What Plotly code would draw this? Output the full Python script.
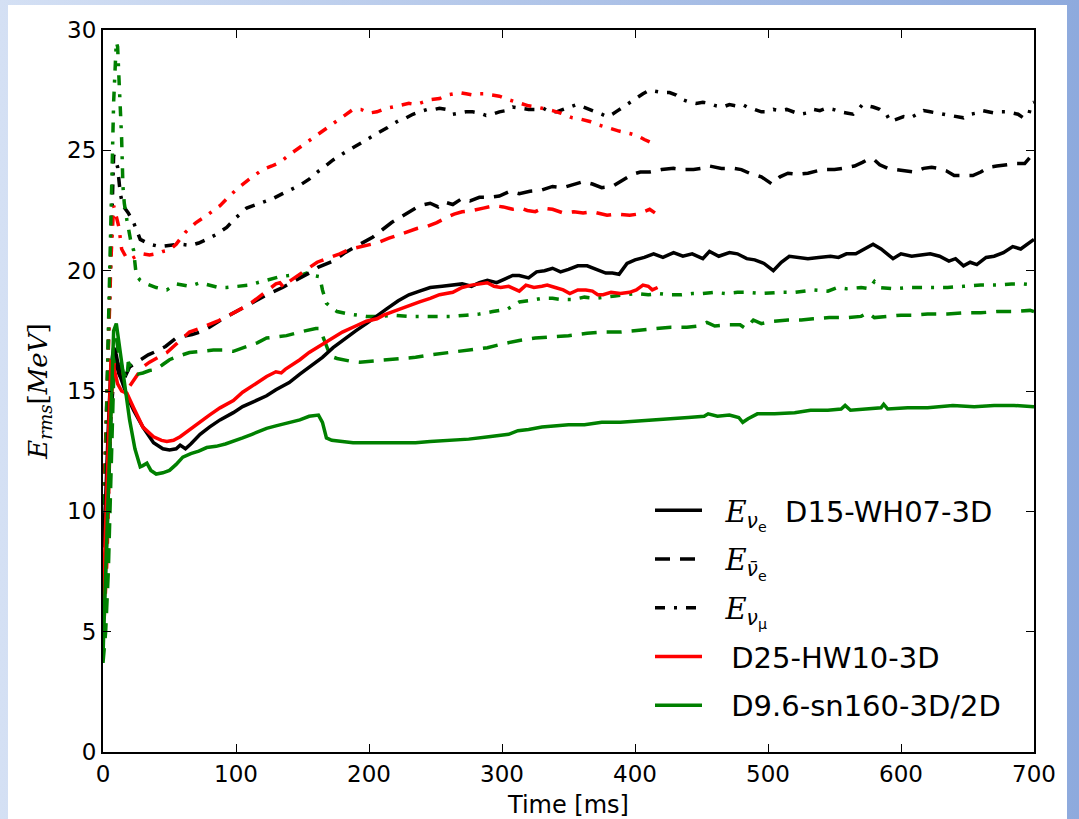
import base64
import plotly.graph_objects as go

# ---------------- data (time [ms], E_rms [MeV]) ----------------
BLACK_NUE = [(0,8.5),(2,10.5),(4,13.5),(6,16.0),(8,16.8),(10,16.5),(13,15.6),(18,14.8),(23,14.2),(30,13.5),(38,12.85),(45,12.6),(50,12.55),(55,12.6),(58,12.75),(62,12.6),(66,12.8),(73,13.2),(80,13.5),(88,13.8),(98,14.1),(105,14.35),(113,14.55),(123,14.8),(130,15.05),(140,15.35),(148,15.7),(155,16.0),(165,16.4),(173,16.8),(180,17.1),(190,17.5),(198,17.8),(205,18.1),(213,18.4),(222,18.75),(230,19.0),(238,19.15),(246,19.3),(255,19.35),(263,19.4),(270,19.45),(277,19.35),(283,19.5),(289,19.6),(296,19.5),(302,19.65),(308,19.8),(313,19.8),(320,19.7),(326,19.95),(332,20.0),(338,20.1),(344,19.95),(350,20.05),(357,20.2),(364,20.2),(371,20.05),(378,19.9),(383,19.9),(388,19.85),(394,20.3),(400,20.45),(407,20.55),(414,20.7),(421,20.55),(429,20.75),(436,20.6),(443,20.7),(451,20.5),(456,20.8),(463,20.6),(471,20.75),(477,20.7),(484,20.5),(490,20.45),(497,20.3),(504,20.0),(510,20.35),(516,20.6),(523,20.55),(530,20.5),(538,20.55),(547,20.6),(553,20.55),(559,20.7),(566,20.7),(573,20.9),(579,21.1),(585,20.9),(590,20.7),(594,20.5),(600,20.7),(608,20.6),(615,20.65),(622,20.7),(629,20.6),(636,20.4),(641,20.5),(647,20.2),(652,20.35),(657,20.25),(664,20.55),(670,20.6),(677,20.75),(684,21.0),(690,20.9),(695,21.1),(700,21.3)]
BLACK_ANUE = [(0,5.0),(3,9.0),(6,14.0),(9,16.3),(12,15.7),(15,15.4),(20,16.0),(27,16.25),(34,16.5),(40,16.65),(47,16.85),(55,17.2),(60,17.25),(67,17.35),(73,17.45),(80,17.65),(90,18.0),(100,18.3),(108,18.55),(116,18.8),(125,19.05),(135,19.3),(142,19.5),(148,19.7),(155,19.9),(162,20.15),(173,20.4),(182,20.75),(190,21.0),(197,21.25),(203,21.4),(210,21.7),(217,22.0),(223,22.2),(230,22.45),(238,22.7),(246,22.8),(252,22.65),(257,22.85),(263,22.75),(270,23.0),(276,22.9),(283,23.05),(291,23.05),(298,23.1),(306,23.3),(313,23.2),(321,23.3),(330,23.35),(338,23.5),(346,23.45),(353,23.55),(361,23.7),(368,23.6),(375,23.45),(383,23.5),(390,23.75),(398,24.0),(404,24.1),(411,24.1),(420,24.2),(429,24.25),(436,24.2),(444,24.2),(450,24.25),(456,24.35),(465,24.25),(474,24.25),(480,24.2),(486,24.05),(495,23.9),(500,23.7),(503,23.6),(509,23.9),(515,24.05),(522,24.0),(530,24.05),(541,24.2),(550,24.2),(556,24.25),(565,24.35),(571,24.5),(576,24.65),(580,24.6),(584,24.4),(590,24.25),(597,24.2),(603,24.15),(610,24.1),(617,24.25),(623,24.3),(628,24.25),(634,24.15),(640,23.95),(646,23.95),(654,23.95),(660,24.1),(666,24.3),(672,24.35),(680,24.4),(687,24.45),(693,24.45),(697,24.7),(700,24.9)]
BLACK_NUX = [(0,9.0),(2,13.0),(4,17.5),(6,22.0),(8,24.8),(10,24.5),(11,24.3),(13,23.2),(15,22.7),(19,22.4),(23,22.0),(28,21.3),(35,21.1),(43,21.0),(50,21.05),(58,21.1),(66,21.05),(72,21.15),(78,21.3),(85,21.5),(93,21.8),(100,22.2),(108,22.6),(115,22.75),(122,22.9),(128,23.0),(135,23.2),(142,23.4),(148,23.55),(155,23.8),(160,24.05),(166,24.3),(173,24.6),(180,24.85),(185,25.0),(191,25.2),(197,25.4),(203,25.6),(208,25.75),(214,25.95),(218,26.1),(223,26.25),(228,26.35),(233,26.5),(238,26.6),(244,26.7),(249,26.7),(253,26.75),(258,26.7),(263,26.5),(268,26.55),(273,26.6),(278,26.6),(283,26.55),(288,26.45),(293,26.5),(298,26.6),(303,26.65),(308,26.8),(313,26.75),(320,26.7),(326,26.7),(331,26.75),(336,26.6),(341,26.6),(346,26.7),(351,26.8),(356,26.9),(361,26.8),(366,26.7),(371,26.6),(375,26.5),(379,26.4),(383,26.5),(387,26.65),(391,26.8),(396,26.95),(401,27.15),(406,27.35),(411,27.5),(416,27.45),(421,27.4),(426,27.4),(431,27.3),(436,27.1),(441,27.0),(446,26.95),(451,27.0),(456,26.95),(461,26.85),(466,26.8),(471,26.9),(476,26.85),(481,26.9),(486,26.75),(490,26.7),(495,26.6),(499,26.6),(504,26.7),(509,26.65),(514,26.7),(519,26.6),(524,26.5),(529,26.55),(534,26.7),(539,26.65),(544,26.75),(549,26.7),(554,26.6),(559,26.55),(564,26.5),(568,26.7),(571,26.9),(575,26.85),(579,26.8),(584,26.7),(589,26.5),(592,26.2),(597,26.3),(602,26.4),(607,26.35),(612,26.5),(617,26.65),(622,26.6),(627,26.55),(632,26.5),(637,26.45),(642,26.4),(647,26.35),(652,26.5),(657,26.55),(661,26.65),(665,26.6),(670,26.55),(675,26.6),(680,26.6),(684,26.55),(688,26.5),(692,26.35),(696,26.45),(698,26.95),(700,27.0)]

RED_NUE = [(0,6.0),(2,9.5),(4,13.5),(6,16.3),(8,16.0),(11,15.3),(14,15.0),(18,14.9),(23,14.3),(30,13.5),(38,13.1),(44,12.95),(48,12.9),(53,12.95),(58,13.1),(65,13.4),(73,13.7),(80,14.0),(88,14.3),(98,14.6),(105,14.95),(113,15.25),(123,15.6),(130,15.8),(134,15.75),(137,15.9),(143,16.1),(148,16.3),(155,16.6),(165,16.95),(173,17.2),(180,17.45),(190,17.7),(198,17.9),(206,18.0),(211,18.15),(218,18.3),(225,18.45),(232,18.6),(238,18.7),(246,18.85),(253,19.0),(263,19.1),(270,19.3),(277,19.4),(283,19.45),(289,19.5),(294,19.35),(299,19.3),(305,19.35),(313,19.15),(318,19.4),(324,19.3),(330,19.35),(334,19.4),(340,19.3),(346,19.2),(351,19.05),(357,19.2),(363,19.2),(368,19.15),(372,19.0),(376,19.0),(382,19.1),(389,19.05),(396,19.1),(401,19.2),(406,19.4),(410,19.35),(413,19.2),(417,19.3)]
RED_ANUE = [(0,4.5),(3,8.0),(6,14.5),(9,16.5),(12,16.0),(16,15.4),(20,15.2),(25,15.6),(30,16.0),(35,16.2),(42,16.4),(48,16.6),(56,17.0),(65,17.45),(75,17.65),(86,17.9),(95,18.15),(103,18.4),(110,18.6),(116,18.85),(124,19.2),(130,19.45),(133,19.5),(136,19.3),(140,19.55),(145,19.75),(153,20.05),(161,20.35),(168,20.5),(178,20.7),(186,20.9),(194,21.0),(200,21.05),(206,21.15),(215,21.35),(223,21.5),(230,21.6),(236,21.75),(244,21.85),(251,22.0),(258,22.2),(264,22.35),(270,22.45),(278,22.5),(286,22.6),(294,22.7),(301,22.65),(308,22.55),(314,22.6),(319,22.5),(325,22.45),(331,22.6),(338,22.55),(346,22.4),(354,22.45),(361,22.4),(368,22.45),(374,22.35),(379,22.3),(386,22.35),(392,22.3),(396,22.3),(402,22.35),(406,22.45),(411,22.55),(415,22.4)]
RED_NUX = [(0,9.0),(2,12.5),(4,16.5),(6,20.5),(8,22.7),(10,22.3),(12,21.8),(14,20.9),(17,20.6),(20,20.45),(25,20.6),(30,20.7),(35,20.65),(40,20.7),(45,20.8),(50,20.85),(55,21.1),(62,21.6),(70,22.0),(78,22.3),(88,22.7),(95,23.1),(103,23.5),(110,23.8),(120,24.2),(127,24.35),(133,24.5),(141,24.85),(150,25.2),(160,25.6),(171,26.0),(180,26.35),(188,26.7),(194,26.7),(200,26.55),(206,26.6),(213,26.75),(218,26.8),(223,26.85),(230,26.95),(235,26.9),(240,27.0),(246,27.1),(253,27.15),(259,27.3),(264,27.35),(268,27.4),(273,27.35),(278,27.3),(282,27.35),(286,27.35),(292,27.3),(298,27.25),(305,27.1),(313,26.95),(320,26.85),(326,26.8),(331,26.75),(338,26.65),(344,26.55),(349,26.45),(353,26.35),(359,26.3),(366,26.2),(373,26.05),(381,25.9),(388,25.8),(396,25.7),(402,25.6),(407,25.45),(411,25.35),(413,25.3)]

GREEN_NUE = [(0,4.0),(2,8.0),(4,10.8),(6,14.0),(8,17.5),(10,17.8),(12,17.0),(14,16.0),(17,14.8),(20,13.8),(24,12.6),(28,11.85),(30,11.9),(33,12.0),(36,11.7),(40,11.55),(45,11.6),(50,11.7),(55,11.95),(60,12.25),(66,12.4),(72,12.5),(78,12.65),(85,12.7),(92,12.8),(98,12.9),(105,13.05),(112,13.2),(118,13.35),(123,13.45),(130,13.55),(137,13.65),(143,13.75),(148,13.8),(155,13.95),(162,14.0),(165,13.7),(168,13.05),(172,12.95),(178,12.92),(188,12.85),(198,12.85),(210,12.85),(222,12.82),(235,12.85),(246,12.9),(260,12.95),(275,13.0),(290,13.1),(305,13.2),(312,13.35),(320,13.4),(330,13.5),(338,13.55),(350,13.6),(362,13.6),(375,13.7),(389,13.7),(400,13.75),(412,13.8),(425,13.85),(440,13.9),(452,13.95),(455,14.05),(462,13.95),(471,14.0),(478,13.9),(481,13.7),(485,13.85),(492,14.05),(505,14.05),(520,14.1),(532,14.2),(545,14.2),(555,14.25),(558,14.4),(562,14.2),(575,14.25),(585,14.3),(587,14.45),(590,14.25),(605,14.3),(620,14.3),(639,14.4),(655,14.35),(670,14.4),(685,14.4),(700,14.35)]
GREEN_ANUE = [(0,3.7),(2,5.0),(4,7.5),(6,11.5),(8,15.5),(10,17.2),(12,16.5),(15,15.8),(18,15.5),(19,16.2),(22,15.9),(26,15.7),(30,15.75),(35,15.85),(40,15.9),(45,16.1),(50,16.3),(57,16.45),(65,16.6),(75,16.65),(83,16.7),(90,16.7),(98,16.65),(108,16.85),(116,17.0),(123,17.2),(130,17.25),(138,17.3),(148,17.45),(155,17.55),(160,17.6),(163,17.6),(165,17.3),(168,16.9),(171,16.45),(176,16.35),(185,16.25),(193,16.2),(205,16.25),(215,16.3),(223,16.35),(235,16.4),(246,16.5),(260,16.6),(275,16.7),(289,16.8),(300,16.95),(313,17.1),(325,17.2),(338,17.25),(350,17.3),(364,17.4),(376,17.45),(389,17.45),(400,17.5),(414,17.6),(427,17.65),(439,17.65),(447,17.7),(454,17.85),(460,17.7),(470,17.75),(479,17.75),(483,17.6),(489,17.95),(495,17.8),(504,17.9),(515,17.95),(525,17.95),(534,18.0),(546,18.05),(559,18.05),(570,18.1),(575,18.25),(580,18.05),(590,18.1),(600,18.15),(609,18.15),(620,18.2),(635,18.2),(647,18.25),(660,18.25),(672,18.3),(685,18.3),(697,18.35),(700,18.3)]
GREEN_NUX = [(0,9.0),(2,12.0),(4,17.5),(6,22.5),(8,27.0),(10,29.5),(11,29.3),(12,28.0),(13,26.8),(14,25.5),(15,23.5),(16,22.8),(18,22.1),(21,21.2),(23,20.85),(25,19.8),(28,19.6),(33,19.45),(40,19.3),(48,19.2),(55,19.45),(60,19.4),(65,19.35),(73,19.5),(80,19.4),(87,19.3),(93,19.3),(103,19.35),(110,19.4),(116,19.5),(125,19.65),(133,19.75),(140,19.8),(146,19.75),(153,19.9),(158,19.8),(163,19.75),(165,19.2),(168,18.65),(172,18.45),(176,18.3),(185,18.2),(198,18.1),(210,18.1),(218,18.15),(230,18.1),(241,18.1),(252,18.1),(263,18.1),(273,18.15),(283,18.2),(293,18.3),(304,18.4),(310,18.6),(313,18.7),(320,18.75),(330,18.85),(338,18.85),(345,18.8),(353,18.8),(362,18.9),(370,18.85),(376,18.9),(385,18.95),(393,19.0),(401,19.05),(410,19.0),(418,19.05),(426,19.0),(435,19.0),(443,19.05),(451,19.05),(460,19.1),(468,19.05),(477,19.1),(485,19.1),(495,19.05),(509,19.1),(520,19.1),(534,19.2),(545,19.15),(552,19.3),(559,19.25),(570,19.3),(576,19.25),(580,19.55),(584,19.3),(594,19.25),(605,19.3),(622,19.3),(635,19.3),(647,19.35),(660,19.4),(672,19.4),(683,19.45),(692,19.45),(700,19.4)]

X_TICKS = [0, 100, 200, 300, 400, 500, 600, 700]
Y_TICKS = [0, 5, 10, 15, 20, 25, 30]

E_SPAN = "<span style=\"font-family:'DejaVu Serif'\"><i>E</i></span>"
NBSP = "\u00a0"
THIN = "\u2009"
LEG_NUE = NBSP + NBSP + E_SPAN + "<sub><i>ν</i><sub>e</sub></sub>" + NBSP + NBSP + "D15-WH07-3D"
LEG_ANUE = NBSP + NBSP + E_SPAN + "<sub><i>ν̄</i><sub>e</sub></sub>"
LEG_NUX = NBSP + NBSP + E_SPAN + "<sub><i>ν</i><sub>μ</sub></sub>"
LEG_RED = NBSP + NBSP + THIN + "D25-HW10-3D"
LEG_GREEN = NBSP + NBSP + THIN + "D9.6-sn160-3D/2D"

BLACK, RED, GREEN = "#000000", "#ff0000", "#008000"
SOLID, DASH, DASHDOT = "solid", "15px,10px", "10px,9px,3px,9px"

series = [
    (BLACK_NUX, BLACK, DASHDOT, LEG_NUX, "g3"),
    (RED_NUX, RED, DASHDOT, None, None),
    (GREEN_NUX, GREEN, DASHDOT, None, None),
    (BLACK_ANUE, BLACK, DASH, LEG_ANUE, "g2"),
    (RED_ANUE, RED, DASH, None, None),
    (GREEN_ANUE, GREEN, DASH, None, None),
    (BLACK_NUE, BLACK, SOLID, LEG_NUE, "g1"),
    (RED_NUE, RED, SOLID, LEG_RED, "g4"),
    (GREEN_NUE, GREEN, SOLID, LEG_GREEN, "g5"),
]

fig = go.Figure()
for pts, col, dash, name, grp in series:
    t = [p[0] for p in pts]
    e = [p[1] for p in pts]
    fig.add_trace(go.Scatter(
        x=t, y=e, mode="lines",
        line=dict(color=col, width=3.5, dash=dash),
        name=name if name else "",
        showlegend=bool(name),
        legendgroup=grp,
        legendrank={"g1": 1, "g2": 2, "g3": 3, "g4": 4, "g5": 5}.get(grp, 10),
        hoverinfo="skip",
    ))

# background frame (light-blue gradient border) as an SVG image
W, H = 1079, 819
L, R, T, B = 103, 45, 30, 67
svg = (f"<svg xmlns='http://www.w3.org/2000/svg' width='{W}' height='{H}' viewBox='0 0 {W} {H}' preserveAspectRatio='none'>"
       "<defs><linearGradient id='g' x1='0' y1='0' x2='1' y2='0'>"
       "<stop offset='0' stop-color='#d4e0f4'/><stop offset='1' stop-color='#8eaadd'/>"
       "</linearGradient></defs>"
       f"<rect width='{W}' height='{H}' fill='url(#g)'/>"
       f"<rect x='8' y='5' width='{1067-8}' height='{H}' fill='#ffffff'/></svg>")
src = "data:image/svg+xml;base64," + base64.b64encode(svg.encode()).decode()
pw, ph = W - L - R, H - T - B
fig.add_layout_image(dict(
    source=src, xref="paper", yref="paper",
    x=-L / pw, y=1 + T / ph, sizex=W / pw, sizey=H / ph,
    xanchor="left", yanchor="top", sizing="stretch", layer="below",
))

axis_common = dict(
    showgrid=False, zeroline=False, showline=True, linecolor="black", linewidth=2,
    mirror="ticks", ticks="inside", ticklen=8, tickwidth=1, tickcolor="black",
    tickfont=dict(family="DejaVu Sans", size=23, color="black"),
    automargin=False,
)
fig.update_xaxes(range=[0, 700], tickvals=X_TICKS, ticktext=[str(v) for v in X_TICKS],
                 title=dict(text="Time [ms]", font=dict(family="DejaVu Sans", size=24, color="black"), standoff=14),
                 **axis_common)
fig.update_yaxes(range=[0, 30], tickvals=Y_TICKS, ticktext=[str(v) for v in Y_TICKS],
                 title=dict(text="<i>E</i><sub><i>rms</i></sub>[<i>MeV</i>]",
                            font=dict(family="DejaVu Serif", size=26, color="black"), standoff=12),
                 **axis_common)

fig.update_layout(
    width=W, height=H,
    margin=dict(l=L, r=R, t=T, b=B, pad=0, autoexpand=False),
    paper_bgcolor="white", plot_bgcolor="rgba(0,0,0,0)",
    showlegend=True,
    legend=dict(x=(650 - L) / pw, y=(752 - 485) / ph, xanchor="left", yanchor="top",
                bgcolor="rgba(0,0,0,0)", borderwidth=0, itemwidth=47,
                tracegroupgap=8, traceorder="grouped",
                font=dict(family="DejaVu Sans", size=29, color="black")),
)

fig.write_html("out.html")
